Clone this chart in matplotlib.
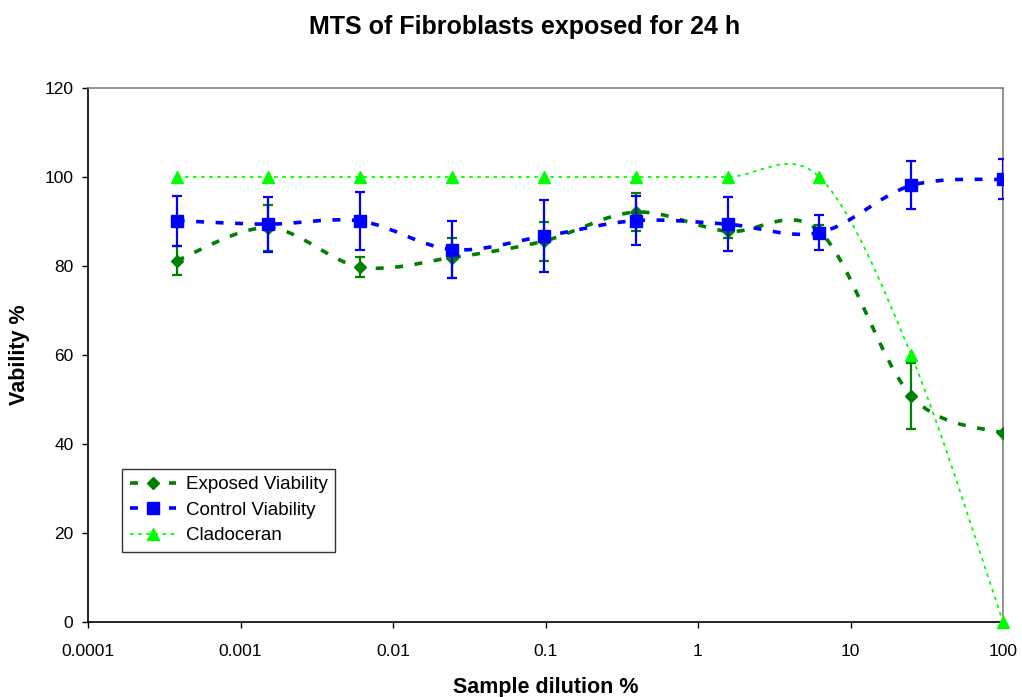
import numpy as np
import matplotlib
matplotlib.use("Agg")
import matplotlib.pyplot as plt
from matplotlib.path import Path
from matplotlib.patches import PathPatch
from matplotlib.lines import Line2D

plt.rcParams['font.family'] = ['Liberation Sans', 'DejaVu Sans']

dilution = [0.00038147, 0.00152588, 0.00610352, 0.0244141, 0.0976563,
            0.390625, 1.5625, 6.25, 25, 100]

exposed = [81.2, 88.6, 79.8, 81.9, 85.6, 92.1, 87.8, 87.8, 50.8, 42.4]
exposed_err = [3.3, 5.2, 2.2, 4.5, 4.4, 4.3, 1.6, 1.5, 7.4, 0.0]

control = [90.2, 89.4, 90.1, 83.7, 86.7, 90.2, 89.4, 87.5, 98.1, 99.5]
control_err = [5.6, 6.2, 6.5, 6.4, 8.1, 5.5, 6.0, 4.0, 5.4, 4.5]

cladoceran = [100, 100, 100, 100, 100, 100, 100, 100, 60, 0]

series_names = ['Exposed Viability', 'Control Viability', 'Cladoceran']


def smooth_path(xs, ys):
    # excel-like smoothed line: catmull-rom bezier in log-x space
    lx = np.log10(xs)
    ys = np.asarray(ys, float)
    n = len(lx)
    verts = [(xs[0], ys[0])]
    codes = [Path.MOVETO]
    for i in range(n - 1):
        i0 = max(i - 1, 0)
        i3 = min(i + 2, n - 1)
        c1x = lx[i] + (lx[i + 1] - lx[i0]) / 6
        c1y = ys[i] + (ys[i + 1] - ys[i0]) / 6
        c2x = lx[i + 1] - (lx[i3] - lx[i]) / 6
        c2y = ys[i + 1] - (ys[i3] - ys[i]) / 6
        verts += [(10 ** c1x, c1y), (10 ** c2x, c2y), (xs[i + 1], ys[i + 1])]
        codes += [Path.CURVE4] * 3
    return Path(verts, codes)


fig = plt.figure(figsize=(10.22, 6.97), dpi=100, facecolor='white')
ax = fig.add_axes([88 / 1022, 75 / 697, 915 / 1022, 534 / 697])
ax.set_xscale('log')

green = '#008000'
blue = '#0000FF'
lime = '#00FF00'
dash_thick = (0, (2.2, 3.2))
dash_thin = (0, (2, 2.5))

ax.add_patch(PathPatch(smooth_path(dilution, cladoceran), fill=False,
                       edgecolor=lime, lw=1.3, linestyle=dash_thin, zorder=2))
ax.add_patch(PathPatch(smooth_path(dilution, exposed), fill=False,
                       edgecolor=green, lw=2.6, linestyle=dash_thick, zorder=3))
ax.add_patch(PathPatch(smooth_path(dilution, control), fill=False,
                       edgecolor=blue, lw=2.6, linestyle=dash_thick, zorder=4))

ax.errorbar(dilution, exposed, yerr=exposed_err, fmt='D', color=green,
            ms=6, ecolor=green, elinewidth=1.6, capsize=3.5, capthick=1.6, zorder=5)
ax.errorbar(dilution, control, yerr=control_err, fmt='s', color=blue,
            ms=8, ecolor=blue, elinewidth=1.6, capsize=3.5, capthick=1.6, zorder=6)
ax.plot(dilution, cladoceran, linestyle='none', marker='^', color=lime,
        ms=8, zorder=7, clip_on=False)

ax.set_xlim(0.0001, 100)
ax.set_ylim(0, 120)
ax.set_yticks(range(0, 121, 20))
ax.set_xticks([0.0001, 0.001, 0.01, 0.1, 1, 10, 100])
ax.set_xticklabels(['0.0001', '0.001', '0.01', '0.1', '1', '10', '100'])
ax.minorticks_off()
ax.tick_params(axis='both', direction='out', length=4.5, width=1, labelsize=12.5,
               colors='black', pad=6)
ax.tick_params(axis='x', pad=11)

ax.spines['left'].set_color('black')
ax.spines['bottom'].set_color('black')
ax.spines['top'].set_color('#808080')
ax.spines['right'].set_color('#808080')
for s in ax.spines.values():
    s.set_linewidth(1.2)

ax.set_xlabel('Sample dilution %', fontsize=15.5, fontweight='bold')
ax.set_ylabel('Vability %', fontsize=15.5, fontweight='bold')
ax.xaxis.label.set_va('center')
ax.yaxis.label.set_va('center')
ax.xaxis.set_label_coords(0.5, -(687 - 622) / 534)
ax.yaxis.set_label_coords(-(88 - 20) / 915, 0.5)
fig.text(525 / 1022, 1 - 27 / 697, 'MTS of Fibroblasts exposed for 24 h', fontsize=18,
         fontweight='bold', ha='center', va='center')

handles = [
    Line2D([], [], color=green, lw=2.6, linestyle=dash_thick, marker='D', ms=6),
    Line2D([], [], color=blue, lw=2.6, linestyle=dash_thick, marker='s', ms=8),
    Line2D([], [], color=lime, lw=1.3, linestyle=dash_thin, marker='^', ms=8),
]
leg = ax.legend(handles, series_names, loc='lower left',
                bbox_to_anchor=(34 / 915, 70 / 534), fontsize=13.5,
                frameon=True, fancybox=False, edgecolor='black',
                handlelength=2.5, borderpad=0.4, labelspacing=0.45,
                handletextpad=0.5, borderaxespad=0)
leg.get_frame().set_linewidth(1.0)

fig.savefig('out.png', dpi=100, facecolor='white')
